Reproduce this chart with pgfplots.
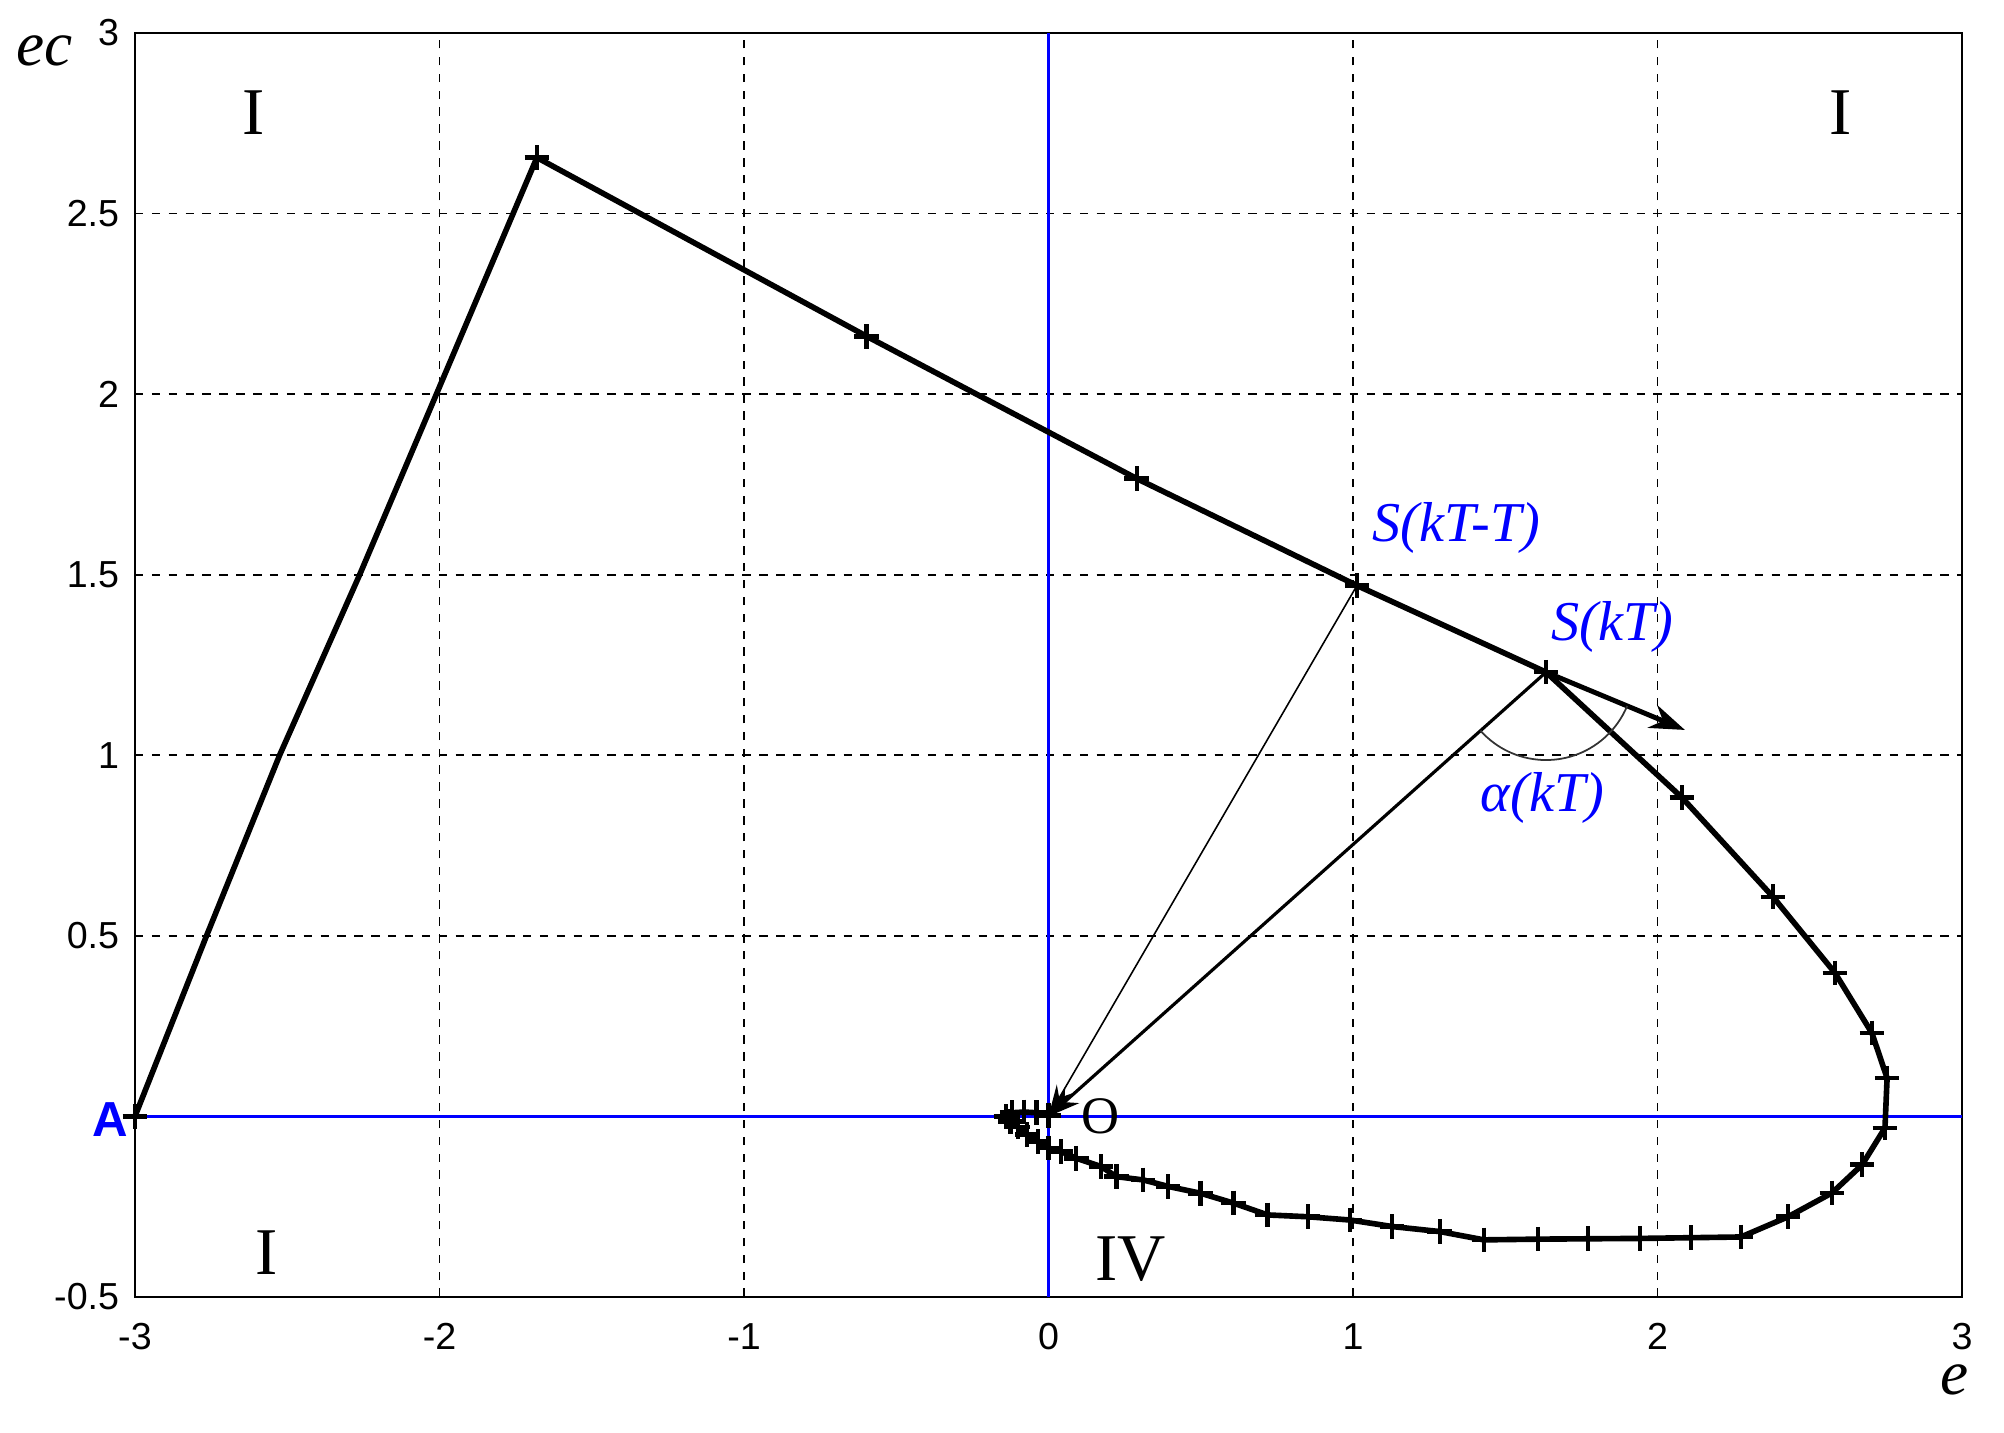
\documentclass[border=0pt]{standalone}
\usepackage{fontspec}
\setmainfont{Liberation Serif}
\setsansfont{Liberation Sans}
\usepackage{pgfplots}
\pgfplotsset{compat=1.18}
\usetikzlibrary{arrows.meta}
\definecolor{myblue}{RGB}{0,0,255}

\pgfplotstableread{
x y
-3 0
-2.765 0.5
-2.525 1.0
-2.262 1.5
-2.01 2.0
-1.68 2.655
-0.597 2.16
0.29 1.766
1.013 1.47
1.634 1.23
2.08 0.883
2.379 0.608
2.583 0.397
2.704 0.231
2.754 0.106
2.747 -0.032
2.672 -0.134
2.573 -0.212
2.429 -0.278
2.274 -0.334
2.11 -0.336
1.943 -0.338
1.772 -0.339
1.608 -0.340
1.43 -0.342
1.285 -0.319
1.128 -0.305
0.99 -0.287
0.852 -0.278
0.72 -0.273
0.607 -0.24
0.500 -0.213
0.393 -0.194
0.311 -0.176
0.223 -0.167
0.173 -0.139
0.091 -0.116
0.041 -0.0975
0.0 -0.088
-0.035 -0.07
-0.07 -0.05
-0.10 -0.03
-0.125 -0.015
-0.14 0.0
-0.12 0.01
-0.08 0.012
-0.04 0.01
0 0.003
}\traj

\pgfplotstableread{
x y
-3 0
-1.68 2.655
-0.597 2.16
0.29 1.766
1.013 1.47
1.634 1.23
2.08 0.883
2.379 0.608
2.583 0.397
2.704 0.231
2.754 0.106
2.747 -0.032
2.672 -0.134
2.573 -0.212
2.429 -0.278
2.274 -0.334
2.11 -0.336
1.943 -0.338
1.772 -0.339
1.608 -0.340
1.43 -0.342
1.285 -0.319
1.128 -0.305
0.99 -0.287
0.852 -0.278
0.72 -0.273
0.607 -0.24
0.500 -0.213
0.393 -0.194
0.311 -0.176
0.223 -0.167
0.173 -0.139
0.091 -0.116
0.041 -0.0975
0.0 -0.088
-0.035 -0.07
-0.07 -0.05
-0.10 -0.03
-0.125 -0.015
-0.14 0.0
-0.12 0.01
-0.08 0.012
-0.04 0.01
0 0.003
}\marks

\begin{document}
\begin{tikzpicture}
\begin{axis}[
  scale only axis, width=519.8pt, height=359.6pt,
  xmin=-3, xmax=3, ymin=-0.5, ymax=3,
  xtick={-3,-2,-1,0,1,2,3},
  ytick={-0.5,0,0.5,1,1.5,2,2.5,3},
  xticklabels={-3,-2,-1,0,1,2,3},
  yticklabels={-0.5,,0.5,1,1.5,2,2.5,3},
  major tick length=0pt,
  grid=major,
  major grid style={black, line width=0.5pt, dash pattern=on 2.4pt off 2.4pt},
  axis line style={black, line width=0.6pt},
  tick label style={font=\sffamily\fontsize{10.7}{12}\selectfont},
  xticklabel style={yshift=-4pt},
  yticklabel style={xshift=-1pt},
  clip=false,
]
\addplot[myblue, line width=0.8pt] coordinates {(-3,0) (3,0)};
\addplot[myblue, line width=0.8pt] coordinates {(0,-0.5) (0,3)};

\addplot[black, line width=1.6pt, no marks, line join=round] table[x=x,y=y] {\traj};
\addplot[black, only marks, mark=+, mark size=3.5pt, mark options={line width=1.3pt}] table[x=x,y=y] {\marks};

\addplot[black, line width=0.45pt, -{Stealth[length=9pt,width=5pt]}] coordinates {(1.013,1.47) (0,0)};
\addplot[black, line width=0.9pt, -{Stealth[length=9pt,width=6pt]}] coordinates {(1.634,1.23) (0,0)};
\addplot[black, line width=1.4pt, -{Stealth[length=10pt,width=7pt]}] coordinates {(1.634,1.23) (2.09,1.07)};

\draw[black!80, line width=0.5pt] (axis cs:1.634,1.23) ++(221.7:25pt) arc[start angle=221.7, end angle=337.4, radius=25pt];

\node[myblue, font=\fontsize{16}{18}\selectfont\itshape] at (axis cs:1.34,1.63) {S(kT-T)};
\node[myblue, font=\fontsize{16}{18}\selectfont\itshape] at (axis cs:1.853,1.355) {S(kT)};
\node[myblue, font=\fontsize{16}{18}\selectfont\itshape] at (axis cs:1.622,0.883) {α(kT)};

\node[font=\fontsize{19}{21}\selectfont] at (axis cs:-2.61,2.78) {I};
\node[font=\fontsize{19}{21}\selectfont] at (axis cs:2.60,2.78) {I};
\node[font=\fontsize{19}{21}\selectfont] at (axis cs:-2.567,-0.376) {I};
\node[font=\fontsize{19}{21}\selectfont] at (axis cs:0.269,-0.394) {IV};

\node[myblue, font=\sffamily\bfseries\fontsize{14}{16}\selectfont] at (axis cs:-3.08,-0.01) {A};
\node[font=\fontsize{15}{17}\selectfont] at (axis cs:0.172,0.0) {O};

\node[font=\fontsize{18}{20}\selectfont\itshape] at ([xshift=-25.6pt,yshift=-5.1pt]rel axis cs:0,1) {ec};
\node[font=\fontsize{18}{20}\selectfont\itshape] at ([xshift=-2pt,yshift=-23.6pt]rel axis cs:1,0) {e};
\end{axis}
\pgfresetboundingbox
\path ([shift={(-38.4pt,-38.7pt)}]current axis.south west) rectangle ([shift={(11.95pt,9.39pt)}]current axis.north east);
\end{tikzpicture}
\end{document}
